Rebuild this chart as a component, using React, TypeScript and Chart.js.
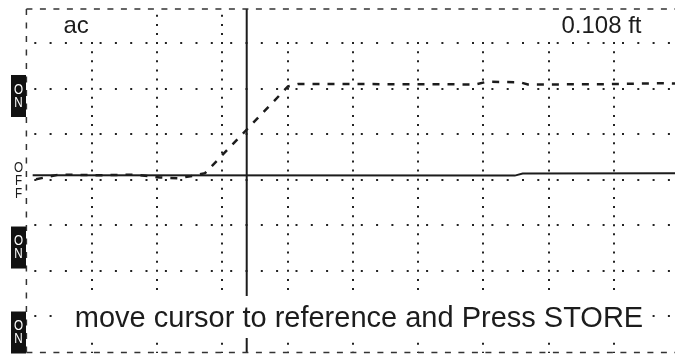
import { useEffect, useRef } from "react";
import { Chart, registerables } from "chart.js";

Chart.register(...registerables);

// ---- data (chart units: x = horizontal divisions, y = vertical divisions) ----
const xGridLines = [1, 2, 3, 4, 5, 6, 7, 8, 9];
const yGridLines = [-3, -2, -1, 0, 1, 2, 3];
const X_MIN = 0;
const X_MAX = 9.933;
const Y_MIN = -3.794;
const Y_MAX = 3.748;

// stored reference trace (dashed)
const refTraceX = [0.147, 0.499, 1.127, 1.678, 2.046, 2.322, 2.551, 2.735, 4.006, 4.159, 6.181, 6.87, 7.054, 7.559, 7.681, 8.78, 9.703, 9.933];
const refTraceY = [0.009, 0.112, 0.099, 0.112, 0.048, 0.031, 0.086, 0.143, 2.047, 2.101, 2.097, 2.09, 2.15, 2.139, 2.09, 2.097, 2.119, 2.112];

// live trace (solid)
const liveTraceX = [0.096, 7.48, 7.6, 9.933];
const liveTraceY = [0.099, 0.09, 0.138, 0.14];

const cursorX = 3.374;

const channelLabels = ["ON", "OFF", "ON", "ON"];
const channelLevels = [1.838, -0.02, -1.489, -3.355];

const leftLabel = "ac";
const rightLabel = "0.108 ft";
const promptText = "move cursor to reference and Press STORE";

const INK = "#1c1c1c";
const FONT = "'Liberation Sans', Arial, Helvetica, sans-serif";

const overlayPlugin = {
  id: "scopeOverlay",
  afterDatasetsDraw(chart: any) {
    const { ctx, chartArea: a, scales } = chart;
    const ys = scales.y;
    ctx.save();

    // white masks behind labels
    ctx.fillStyle = "#ffffff";
    ctx.fillRect(a.left + 1.5, a.top + 2, 120 - a.left, 27);
    ctx.fillRect(262, a.top + 2, a.right - 262, 27);
    ctx.fillRect(62, 296, 588, 42);

    // dashed frame
    ctx.strokeStyle = "#333333";
    ctx.lineWidth = 1.5;
    ctx.setLineDash([6, 7.5]);
    ctx.beginPath();
    ctx.moveTo(a.left, a.top);
    ctx.lineTo(a.right, a.top);
    ctx.moveTo(a.left, a.top);
    ctx.lineTo(a.left, a.bottom);
    ctx.moveTo(a.left, a.bottom);
    ctx.lineTo(a.right, a.bottom);
    ctx.stroke();
    ctx.setLineDash([]);

    // texts
    ctx.fillStyle = INK;
    ctx.textBaseline = "alphabetic";
    ctx.font = `24px ${FONT}`;
    ctx.textAlign = "left";
    ctx.fillText(leftLabel, 63.5, 33);
    ctx.textAlign = "right";
    ctx.fillText(rightLabel, 641.5, 32.5);
    ctx.font = `29px ${FONT}`;
    ctx.textAlign = "center";
    ctx.fillText(promptText, 359, 327);

    // channel state labels
    channelLabels.forEach((lab, i) => {
      const cy = ys.getPixelForValue(channelLevels[i]);
      const on = lab === "ON";
      if (on) {
        ctx.fillStyle = "#111111";
        ctx.fillRect(11, cy - 21, 15, 42);
      }
      ctx.fillStyle = on ? "#ffffff" : INK;
      ctx.font = `15px ${FONT}`;
      ctx.textAlign = "center";
      ctx.textBaseline = "middle";
      const n = lab.length;
      for (let k = 0; k < n; k++) {
        const ly = cy + (k - (n - 1) / 2) * 12.8;
        ctx.save();
        ctx.translate(on ? 18.5 : 18.5, ly);
        ctx.scale(0.78, 1);
        ctx.fillText(lab[k], 0, 0);
        ctx.restore();
      }
    });

    ctx.restore();
  },
};

export default function App() {
  const ref = useRef<HTMLCanvasElement | null>(null);

  useEffect(() => {
    if (!ref.current) return;
    const refData = refTraceX.map((x, i) => ({ x, y: refTraceY[i] }));
    const liveData = liveTraceX.map((x, i) => ({ x, y: liveTraceY[i] }));
    const cursorData = [
      { x: cursorX, y: Y_MIN },
      { x: cursorX, y: Y_MAX },
    ];
    const chart = new Chart(ref.current, {
      type: "line",
      data: {
        datasets: [
          {
            data: liveData,
            borderColor: INK,
            borderWidth: 2,
            pointRadius: 0,
            tension: 0,
            borderCapStyle: "butt",
          },
          {
            data: refData,
            borderColor: INK,
            borderWidth: 2.5,
            borderDash: [7, 8],
            pointRadius: 0,
            tension: 0,
          },
          {
            data: cursorData,
            borderColor: INK,
            borderWidth: 2,
            pointRadius: 0,
          },
        ],
      },
      options: {
        responsive: false,
        maintainAspectRatio: false,
        animation: false,
        events: [],
        layout: { padding: { left: 26.4, top: 9, right: 0, bottom: 1.5 } },
        plugins: {
          legend: { display: false },
          tooltip: { enabled: false },
          title: { display: false },
        },
        scales: {
          x: {
            type: "linear",
            min: X_MIN,
            max: X_MAX,
            afterBuildTicks: (s: any) => {
              s.ticks = xGridLines.map((v) => ({ value: v }));
            },
            ticks: { display: false },
            grid: { color: "#222222", lineWidth: 2, drawTicks: false },
            border: { display: false, dash: [2, 7.108], dashOffset: 3.33 },
          },
          y: {
            type: "linear",
            min: Y_MIN,
            max: Y_MAX,
            afterBuildTicks: (s: any) => {
              s.ticks = yGridLines.map((v) => ({ value: v }));
            },
            ticks: { display: false },
            grid: { color: "#222222", lineWidth: 2, drawTicks: false },
            border: {
              display: false,
              dash: [2, 13.3, 2, 13.3, 2, 13.3, 2, 17.4],
              dashOffset: 57,
            },
          },
        },
      },
      plugins: [overlayPlugin],
    } as any);
    return () => chart.destroy();
  }, []);

  return (
    <div style={{ position: "fixed", left: 0, top: 0, width: 675, height: 354, background: "#fff" }}>
      <canvas ref={ref} width={675} height={354} style={{ display: "block" }} />
    </div>
  );
}
